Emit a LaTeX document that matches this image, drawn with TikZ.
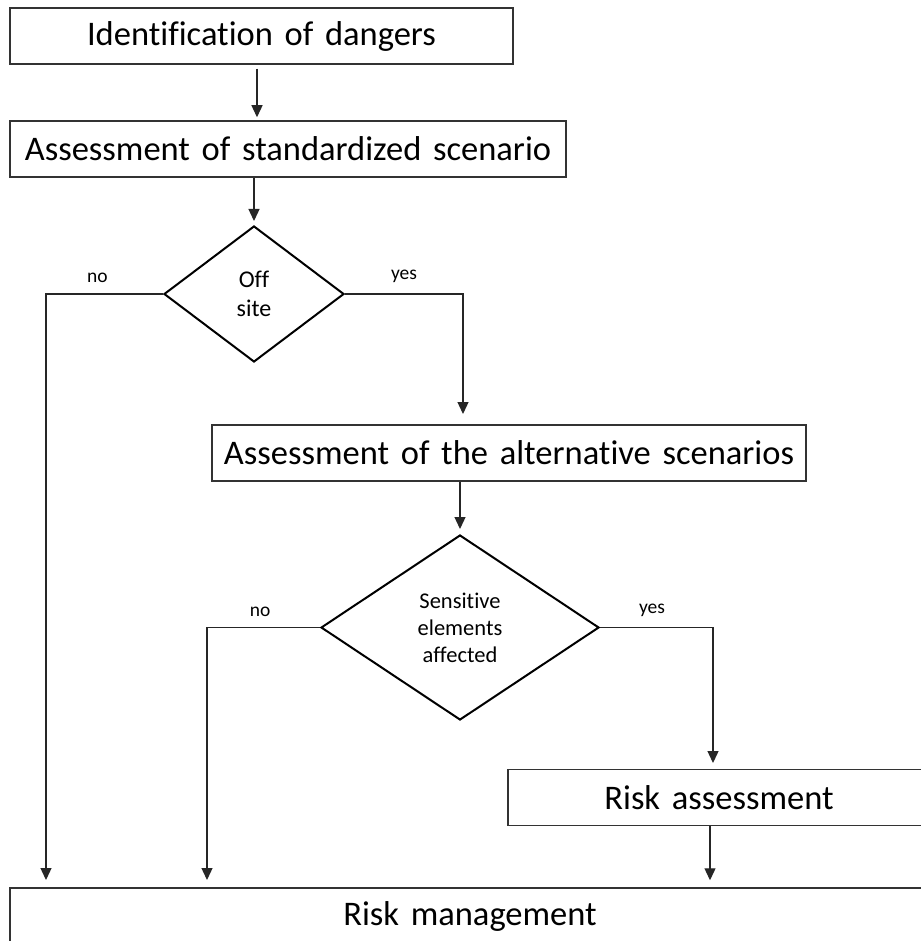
\documentclass[tikz,border=0pt]{standalone}
\usepackage{fontspec}
\setmainfont[Ligatures=NoCommon, WordSpace=1.5]{Carlito}
\usetikzlibrary{positioning,shapes.geometric,arrows.meta}
\tikzstyle{box} = [rectangle, draw=black!80, line width=1.5pt, inner sep=0pt, minimum height=56pt, font=\fontsize{34.5}{40}\selectfont]
\tikzstyle{decision} = [diamond, draw=black, line width=2pt, inner sep=0pt, align=center]
\tikzstyle{arrow} = [line width=1.3pt, draw=black!85, -{Triangle[length=12pt,width=11pt]}]
\tikzstyle{lbl} = [font=\fontsize{19.5}{20}\selectfont, above=7pt]

\begin{document}
\begin{tikzpicture}[x=1pt, y=-1pt]
			\useasboundingbox (0,0) rectangle (920,941);
			\node[box, minimum width=503pt] (ident) at (261.5,36) {Identification of dangers};
			\node[box, minimum width=556pt] (stdscen) at (288,149) {Assessment of standardized scenario};
			\node[decision, minimum width=180pt, minimum height=136pt, font=\fontsize{24}{29}\selectfont] (offsite) at (254,294) {Off\\site};
			\node[box, minimum width=594pt] (altscen) at (509,453) {Assessment of the alternative scenarios};
			\node[decision, minimum width=278pt, minimum height=185pt, font=\fontsize{22.5}{27}\selectfont] (sensitive) at (460,627.5) {Sensitive\\elements\\affected};
			\node[box, minimum width=422pt] (riskass) at (719,797.5) {Risk assessment};
			\node[box, minimum width=920pt] (riskman) at (470,916) {Risk management};
			\coordinate (noend1) at (46,880);
			\coordinate (yesend1) at (463,414);
			\coordinate (noend2) at (207,880);
			\coordinate (yesend2) at (713,763);
			\draw[arrow, shorten <=4pt, shorten >=3pt] ([xshift=-4.5pt]ident.south) -- ([xshift=-4.5pt]ident.south |- stdscen.north);
			\draw[arrow, shorten >=4pt] (offsite.north |- stdscen.south) -- (offsite.north);
			\draw[arrow] (offsite.west) -- node[lbl, pos=0.56] {no} (offsite.west -| noend1) -- (noend1);
			\draw[arrow] (offsite.east) -- node[lbl] {yes} (offsite.east -| yesend1) -- (yesend1);
			\draw[arrow, shorten >=5pt] (sensitive.north |- altscen.south) -- (sensitive.north);
			\draw[arrow] (sensitive.west) -- node[lbl, pos=0.53] {no} (sensitive.west -| noend2) -- (noend2);
			\draw[arrow] (sensitive.east) -- node[lbl, pos=0.46] {yes} (sensitive.east -| yesend2) -- (yesend2);
			\draw[arrow, shorten >=7pt] ([xshift=-9pt]riskass.south) -- ([xshift=-9pt]riskass.south |- riskman.north);
		\end{tikzpicture}
\end{document}
